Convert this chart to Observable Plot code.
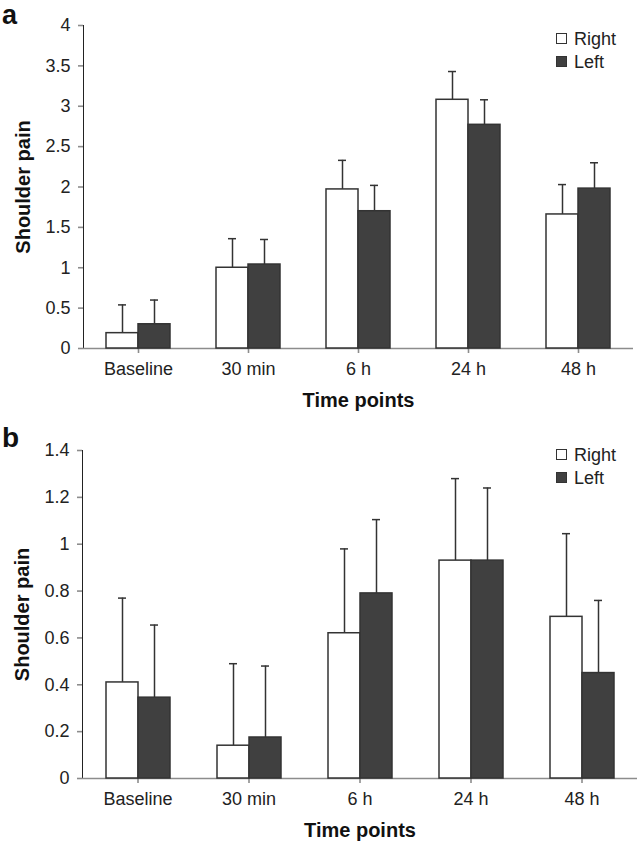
<!DOCTYPE html>
<html><head><meta charset="utf-8">
<script src="https://cdn.jsdelivr.net/npm/d3@7"></script>
<script src="https://cdn.jsdelivr.net/npm/@observablehq/plot@0.6"></script>
<style>
body{margin:0;background:#fff;font-family:"Liberation Sans",Arial,sans-serif;}
#wrap{position:relative;width:644px;height:846px;overflow:hidden;}
.panel{position:absolute;left:0;width:644px;}
.plabel{position:absolute;left:2px;font-weight:bold;color:#111;}
.legend{position:absolute;left:556px;font-size:18px;color:#222;line-height:1;}
.legend .row{display:flex;align-items:center;height:23px;}
.legend .sw{width:9px;height:9px;border:1.5px solid #333;margin-right:7px;}
svg g[aria-label$="-axis"] path, svg g[aria-label$="-axis"] line,
svg g[aria-label$="-axis tick"] path {stroke:#8c8c8c;stroke-width:1.6px;}
svg g[aria-label$="-axis"] > text, svg g[aria-label$="-axis label"] text {font-weight:bold;font-size:20px;fill:#111;}
</style>
</head><body>
<div id="wrap">
  <div class="plabel" style="top:0px;font-size:27px;line-height:31px;">a</div>
  <div class="plabel" style="top:422px;font-size:28px;line-height:32px;">b</div>
  <div id="pa" class="panel" style="top:0px;"></div>
  <div id="pb" class="panel" style="top:420px;"></div>
  <div class="legend" style="top:27px;">
    <div class="row"><span class="sw" style="background:#fff"></span>Right</div>
    <div class="row"><span class="sw" style="background:#404040"></span>Left</div>
  </div>
  <div class="legend" style="top:443px;">
    <div class="row"><span class="sw" style="background:#fff"></span>Right</div>
    <div class="row"><span class="sw" style="background:#404040"></span>Left</div>
  </div>
</div>
<script>
const timePoints = ["Baseline", "30 min", "6 h", "24 h", "48 h"];
const sides = ["Right", "Left"];

// Panel a
const aRightMean = [0.19, 1.00, 1.97, 3.08, 1.66];
const aRightSD   = [0.35, 0.36, 0.36, 0.35, 0.37];
const aLeftMean  = [0.30, 1.04, 1.70, 2.77, 1.98];
const aLeftSD    = [0.30, 0.31, 0.32, 0.31, 0.32];
const aTicks = [0, 0.5, 1, 1.5, 2, 2.5, 3, 3.5, 4];

// Panel b
const bRightMean = [0.41, 0.14, 0.62, 0.93, 0.69];
const bRightSD   = [0.36, 0.35, 0.36, 0.35, 0.355];
const bLeftMean  = [0.345, 0.175, 0.79, 0.93, 0.45];
const bLeftSD    = [0.31, 0.305, 0.315, 0.31, 0.31];
const bTicks = [0, 0.2, 0.4, 0.6, 0.8, 1, 1.2, 1.4];

function panel(rMean, rSD, lMean, lSD, ticks, o) {
  const rows = [];
  timePoints.forEach((t, i) => {
    rows.push({time: t, side: "Right", mean: rMean[i], upper: rMean[i] + rSD[i]});
    rows.push({time: t, side: "Left", mean: lMean[i], upper: lMean[i] + lSD[i]});
  });
  return Plot.plot({
    width: 644, height: o.height,
    marginLeft: 81, marginRight: o.mr, marginTop: o.mt, marginBottom: o.mb,
    style: {fontFamily: "'Liberation Sans', Arial, sans-serif", fontSize: "18px", color: "#222", background: "transparent", overflow: "visible"},
    facet: {data: rows, x: "time"},
    fx: {domain: timePoints, padding: 0, axis: "bottom", label: "Time points", labelAnchor: "center", labelArrow: "none", labelOffset: 58, tickSize: 5, tickPadding: 9},
    x: {domain: sides, paddingInner: 0, paddingOuter: 0.71, axis: null},
    y: {domain: [0, ticks[ticks.length - 1]], ticks: ticks, tickFormat: d3.format("~g"), label: "Shoulder pain", labelAnchor: "center", labelArrow: "none", labelOffset: 68, line: true, tickSize: 5, tickPadding: 8},
    color: {domain: sides, range: ["#ffffff", "#404040"]},
    marks: [
      Plot.ruleY([0], {stroke: "#8c8c8c", strokeWidth: 1.6}),
      Plot.ruleX(rows, {x: "side", y1: "mean", y2: "upper", stroke: "#333", strokeWidth: 1.5}),
      Plot.tickY(rows, {x: "side", y: "upper", stroke: "#333", strokeWidth: 1.5, insetLeft: 12, insetRight: 12}),
      Plot.barY(rows, {x: "side", y: "mean", fill: "side", stroke: "#333", strokeWidth: 1.5})
    ]
  });
}

document.getElementById("pa").append(panel(aRightMean, aRightSD, aLeftMean, aLeftSD, aTicks, {height: 420, mt: 25, mb: 72, mr: 10}));
document.getElementById("pb").append(panel(bRightMean, bRightSD, bLeftMean, bLeftSD, bTicks, {height: 426, mt: 30, mb: 68, mr: 7}));
</script>
</body></html>
